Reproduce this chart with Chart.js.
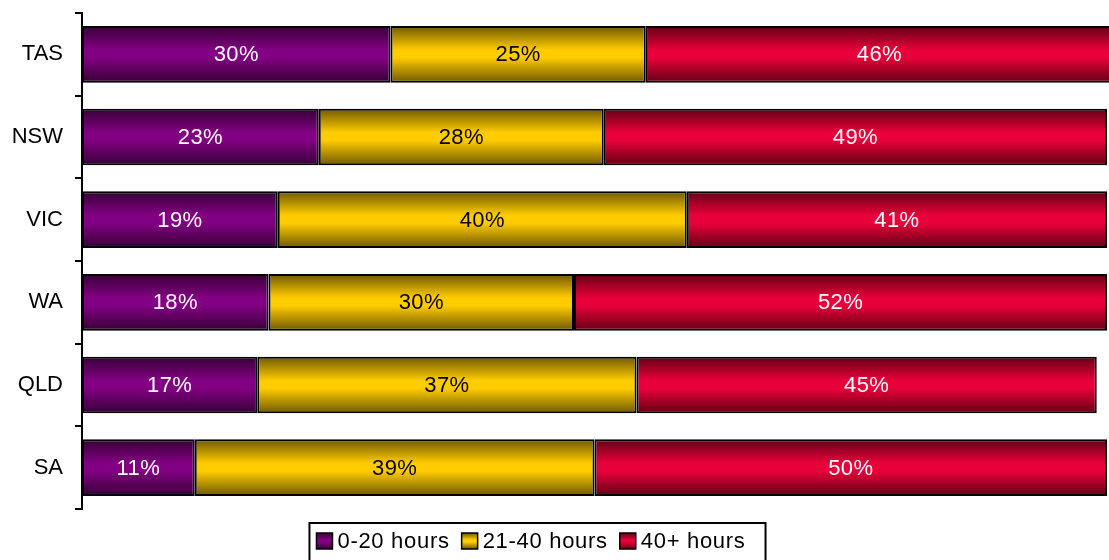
<!DOCTYPE html>
<html>
<head>
<meta charset="utf-8">
<script src="https://cdn.jsdelivr.net/npm/chart.js@4/dist/chart.umd.min.js"></script>
<style>
  html, body { margin: 0; padding: 0; background: #fff; overflow: hidden; }
  #wrap { width: 1109px; height: 560px; }
</style>
</head>
<body>
<div id="wrap"><canvas id="chart"></canvas></div>
<script>
// states, top to bottom
const states = ['TAS', 'NSW', 'VIC', 'WA', 'QLD', 'SA'];
const seriesNames = ['0-20 hours', '21-40 hours', '40+ hours'];
// shares in percent
const hours0to20 = [30.1, 23.1, 19.1, 18.2, 17.1, 11.0];
const hours21to40 = [24.9, 27.8, 39.9, 29.8, 37.0, 39.0];
const hours40plus = [45.6, 49.1, 41.0, 52.0, 44.9, 50.0];

const FONT = '"Liberation Sans", Arial, sans-serif';
const barPct = 0.685;

// dark edge / bright middle, like the old excel look
const shades = [
    { dark: '#360036', light: '#820082', text: '#fff' },
    { dark: '#6e5800', light: '#ffcc00', text: '#000' },
    { dark: '#620014', light: '#e8003a', text: '#fff' }
];

function paintBand(g, s) {
    g.addColorStop(0, s.dark);
    g.addColorStop(0.42, s.light);
    g.addColorStop(0.56, s.light);
    g.addColorStop(1, s.dark);
    return g;
}

function barFill(s) {
    return function (c) {
        const chart = c.chart;
        const y = chart.scales.y;
        if (c.type !== 'data' || !y || !chart.chartArea) return s.light;
        const mid = y.getPixelForValue(c.dataIndex);
        const half = (y.height / states.length) * barPct / 2;
        return paintBand(chart.ctx.createLinearGradient(0, mid - half, 0, mid + half), s);
    };
}

const valueLabels = {
    id: 'valueLabels',
    afterDatasetsDraw(chart) {
        const ctx = chart.ctx;
        ctx.save();
        ctx.font = '22px ' + FONT;
        ctx.letterSpacing = '0.4px';
        ctx.textAlign = 'center';
        ctx.textBaseline = 'middle';
        chart.data.datasets.forEach((ds, i) => {
            const meta = chart.getDatasetMeta(i);
            ctx.fillStyle = shades[i].text;
            meta.data.forEach((bar, j) => {
                ctx.fillText(Math.round(ds.data[j]) + '%', (bar.x + bar.base) / 2, bar.y + 1);
            });
        });
        ctx.restore();
    }
};

// boxed legend under the plot
const boxLegend = {
    id: 'boxLegend',
    afterDraw(chart) {
        const ctx = chart.ctx;
        const sw = 16, gap = 5, space = 12;
        const centerX = 531, midY = 541;
        ctx.save();
        ctx.font = '22px ' + FONT;
        ctx.letterSpacing = '0.7px';
        const widths = seriesNames.map(n => ctx.measureText(n).width);
        const total = widths.reduce((a, w) => a + sw + gap + w, 0) + space * (seriesNames.length - 1);
        let x = centerX - total / 2;

        ctx.strokeStyle = '#000';
        ctx.lineWidth = 2;
        ctx.strokeRect(x - 7, 523, total + 27, 40);

        ctx.textBaseline = 'middle';
        ctx.textAlign = 'left';
        seriesNames.forEach((name, i) => {
            const top = midY - sw / 2;
            ctx.fillStyle = paintBand(ctx.createLinearGradient(0, top, 0, top + sw), shades[i]);
            ctx.fillRect(x, top, sw, sw);
            ctx.lineWidth = 1.5;
            ctx.strokeRect(x, top, sw, sw);
            ctx.fillStyle = '#000';
            ctx.fillText(name, x + sw + gap, midY + 1);
            x += sw + gap + widths[i] + space;
        });
        ctx.restore();
    }
};

const seriesData = [hours0to20, hours21to40, hours40plus];

new Chart(document.getElementById('chart'), {
    type: 'bar',
    data: {
        labels: states,
        datasets: seriesNames.map((name, i) => ({
            label: name,
            data: seriesData[i],
            backgroundColor: barFill(shades[i]),
            borderColor: '#000',
            borderWidth: 2,
            borderSkipped: false,
            barPercentage: barPct,
            categoryPercentage: 1,
            clip: false
        }))
    },
    options: {
        indexAxis: 'y',
        responsive: true,
        maintainAspectRatio: false,
        animation: false,
        layout: { padding: { top: 13, right: 2, bottom: 51, left: 0 } },
        plugins: {
            legend: { display: false },
            tooltip: { enabled: false }
        },
        scales: {
            x: { stacked: true, display: false, min: 0, max: 100 },
            y: {
                stacked: true,
                grid: {
                    display: true,
                    drawOnChartArea: false,
                    drawTicks: true,
                    tickLength: 7,
                    color: '#000',
                    lineWidth: 2,
                    offset: true
                },
                border: { display: true, color: '#000', width: 2 },
                ticks: { color: '#000', font: { size: 22, family: FONT }, padding: 12 },
                afterFit(s) {
                    s.width = 82;
                    s.paddingTop = 0;
                    s.paddingBottom = 0;
                }
            }
        }
    },
    plugins: [valueLabels, boxLegend]
});
</script>
</body>
</html>
